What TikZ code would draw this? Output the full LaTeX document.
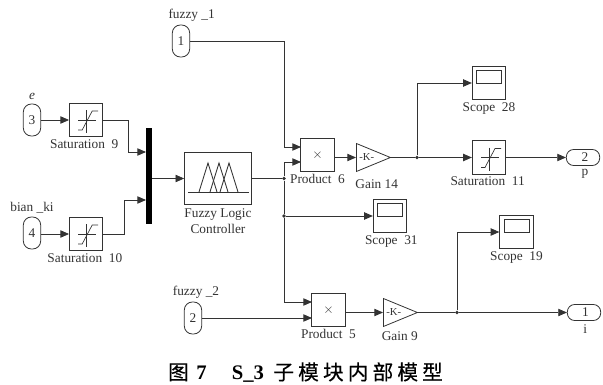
\documentclass[tikz,border=0pt]{standalone}
\usepackage{fontspec}
\setmainfont{Liberation Serif}
\newfontfamily\cjk[LetterSpace=20,FakeBold=0.4]{Noto Sans CJK SC}
\usepackage{tikz}
\usetikzlibrary{positioning}
\usetikzlibrary{calc}
\usetikzlibrary{arrows.meta}
\usetikzlibrary{shapes.geometric}
\definecolor{simline}{gray}{0.2}
\tikzset{
    block/.style={draw=simline, line width=0.7pt, inner sep=0pt, minimum width=25pt, minimum height=25pt},
    port/.style={draw=simline, line width=0.6pt, rounded corners=6pt, inner sep=0pt, minimum width=13pt, minimum height=24pt},
    outport/.style={draw=simline, line width=0.6pt, rounded corners=5.5pt, inner sep=0pt, minimum width=25pt, minimum height=12pt},
    gain/.style={draw=simline, line width=0.6pt, shape=isosceles triangle, isosceles triangle stretches, inner sep=0pt,
        minimum width=21pt, minimum height=25.5pt, font=\fontsize{8}{9}\selectfont},
    wire/.style={draw=simline, line width=0.65pt},
    thinwire/.style={draw=simline, line width=0.5pt},
    arrow/.style={wire, -{Triangle[length=6.5pt,width=5.5pt]}},
    junction/.style={circle, fill=simline, inner sep=0pt, minimum size=2.8pt},
    every label/.style={font=\fontsize{10}{12}\selectfont, text=simline, inner sep=1.5pt},
}
\newcommand{\satsign}[1]{
    \draw[thinwire] ($(#1)+(-8,10)$) -- ($(#1)+(-4,10)$) -- ($(#1)+(6,-9)$) -- ($(#1)+(12,-9)$);
    \draw[thinwire] ($(#1)+(-8,0)$) -- ($(#1)+(10,0)$);
    \draw[thinwire] ($(#1)+(0,-10)$) -- ($(#1)+(0,13)$);
}
\newcommand{\scopesign}[1]{
    \draw[wire] ($(#1)+(-12.5,-12.5)$) rectangle ($(#1)+(12.5,0.5)$);
}
\begin{document}
\begin{tikzpicture}[x=0.75pt, y=-0.75pt, font=\fontsize{10}{12}\selectfont, text=simline]
    \useasboundingbox (0,0) rectangle (603,385);

    % inports
    \node [port, label={[label distance=1pt, xshift=8pt]above:fuzzy \_1}] (in1) at (181,41) {1};
    \node [port, label={[label distance=1pt]above:\textit{e}}] (in3) at (32,120) {3};
    \node [port, label={[label distance=1pt]above:bian \_ki}] (in4) at (32,233) {4};
    \node [port, label={[label distance=1pt, xshift=2.25pt]above:fuzzy \_2}] (in2) at (193,318) {2};

    % saturation
    \node [block, right=21pt of in3, label={[xshift=-1.5pt]below:Saturation\ \ 9}] (sat9) {};
    \node [block, right=21pt of in4, yshift=-0.75pt, label={[xshift=-1pt]below:Saturation\ \ 10}] (sat10) {};
    \node [block, label={[xshift=-1pt]below:Saturation\ \ 11}] (sat11) at (489,157.5) {};

    % mux and controller
    \node [fill=black, inner sep=0pt, minimum width=4.8pt, minimum height=72pt] (mux) at (149,176) {};
    \node [block, minimum width=50pt, minimum height=38.5pt, align=center,
        label={[align=center, label distance=1pt]below:Fuzzy Logic\\Controller}] (flc) at (218,178.5) {};

    % products and gains
    \node [block, label=below:Product\ \ 6] (prod6) at (317.5,155) {$\times$};
    \node [gain, anchor=lower side] (gain14) at (356,157.5) {-K-};
    \node [block, label=below:Product\ \ 5] (prod5) at (328.5,310) {$\times$};
    \node [gain, anchor=lower side] (gain9) at (383,312.5) {-K-};

    % gain labels
    \node [below=5.75pt of gain14, xshift=7.5pt] (gain14text) {Gain 14};
    \node [below=3.5pt of gain9, xshift=4.5pt] (gain9text) {Gain 9};

    % scopes
    \node [block, label=below:Scope\ \ 28] (scope28) at (489,83) {};
    \node [block, label={[xshift=1pt]below:Scope\ \ 31}] (scope31) at (390,216) {};
    \node [block, label=below:Scope\ \ 19] (scope19) at (516.5,232) {};

    % outports
    \node [outport, label={[inner sep=0pt, label distance=2.5pt, xshift=1.5pt]below:p}] (out2) at (583,157.5) {\hspace*{3pt}2};
    \node [outport, label={[inner sep=0pt, label distance=2.5pt, xshift=1pt]below:i}] (out1) at (584,312.5) {\hspace*{2pt}1};

    % junctions
    \node [junction] (j1) at (284,178.5) {};
    \node [junction] (j2) at (284,216) {};
    \node [junction] (j3) at (417,157.5) {};
    \node [junction] (j4) at (457,312.5) {};

    \coordinate (prod6a) at (301,147);
    \coordinate (prod6b) at (301,162);
    \coordinate (prod5a) at (312,302);
    \coordinate (prod5b) at (312,318);
    \coordinate (muxa) at (146,152);
    \coordinate (muxb) at (146,200);

    \satsign{sat9}
    \satsign{sat10}
    \satsign{sat11}
    \scopesign{scope28}
    \scopesign{scope31}
    \scopesign{scope19}

    % membership functions
    \draw[wire] (188,192) -- (249,192);
    \foreach \i in {208,219,229}
        \draw[wire] ($(\i,192)+(-9,0)$) -- (\i,163) -- ($(\i,192)+(9,0)$);

    % wires
    \draw[arrow] (in3) -- (sat9);
    \draw[arrow] (in4.east|-sat10) -- (sat10);
    \draw[arrow] (sat9) -- (128,120) -- (128,152) -- (muxa);
    \draw[arrow] (sat10.east) -| (124,200) -- (muxb);
    \draw[arrow] (mux.east|-flc) -- (flc);
    \draw[wire] (flc) -- (j1);
    \draw[arrow] (j1) |- (prod6b);
    \draw[wire] (j1) -- (j2);
    \draw[arrow] (j2) -- (scope31);
    \draw[arrow] (j2) |- (prod5a);
    \draw[arrow] (in1) -| (284,147) -- (prod6a);
    \draw[arrow] (in2) -- (prod5b);
    \draw[arrow] (prod6.east|-gain14.lower side) -- (gain14.lower side);
    \draw[arrow] (prod5.east|-gain9.lower side) -- (gain9.lower side);
    \draw[wire] (gain14.apex) -- (j3);
    \draw[wire] (gain9.apex) -- (j4);
    \draw[arrow] (j3) |- (scope28);
    \draw[arrow] (j3) -- (sat11);
    \draw[arrow] (sat11) -- (out2);
    \draw[arrow] (j4) |- (scope19);
    \draw[arrow] (j4) -- (out1);

    \node [font=\fontsize{15.5}{18}\selectfont, text=black] (caption) at (305.5,372.5) {{\cjk 图}\hspace{2.5pt}\textbf{7}\hspace{19pt}\textbf{S\_3}\hspace{7pt}{\cjk 子模块内部模型}};
\end{tikzpicture}
\end{document}
